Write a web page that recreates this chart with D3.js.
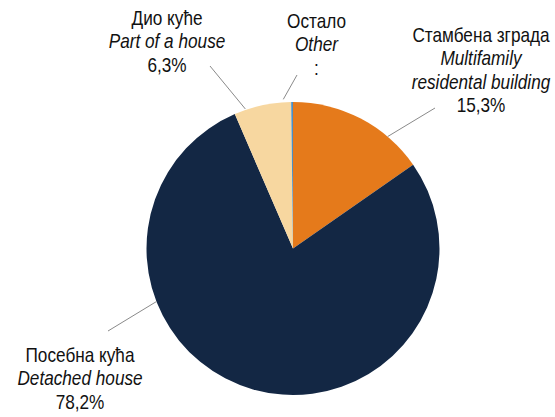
<!DOCTYPE html>
<html><head><meta charset="utf-8">
<script src="https://cdn.jsdelivr.net/npm/d3@7"></script>
<style>
html,body{margin:0;padding:0;background:#fff;}
svg text{font-family:"Liberation Sans","Arial",sans-serif;font-size:20px;fill:#111;}
</style></head>
<body>
<svg id="chart" width="555" height="417"></svg>
<script>
const categoriesSr = ["Стамбена зграда", "Посебна кућа", "Дио куће", "Остало"];
const categoriesEn = [["Multifamily", "residental building"], ["Detached house"], ["Part of a house"], ["Other"]];
const values = [15.3, 78.2, 6.3, 0.2];
const valueLabels = ["15,3%", "78,2%", "6,3%", ":"];
const colors = ["#E57A1B", "#132744", "#F7D7A0", "#4B8FC6"];

// layout (positions only)
const cx = 293, cy = 248.5, R = 146.5;
const narrow = 0.86;
const labelLayout = [
  {x: 481, y: 42, t: 0.73, rOff: 0, lx: 435, ly: 108},
  {x: 80, y: 362, t: 0.688, rOff: 0, lx: 108, ly: 331},
  {x: 167, y: 25, t: 0.2, rOff: 1, lx: 210, ly: 66},
  {x: 316.5, y: 28, t: -3, rOff: 3, lx: 297, ly: 75}
];
const lineH = 23.3;

const svg = d3.select("#chart");
const g = svg.append("g").attr("transform", `translate(${cx},${cy})`);
const pie = d3.pie().sort(null).value(d => d)(values);
const arc = d3.arc().innerRadius(0).outerRadius(R);

g.selectAll("path.slice").data(pie).join("path")
  .attr("class", "slice")
  .attr("d", arc)
  .attr("fill", (d, i) => colors[i]);

// leader lines
pie.forEach((d, i) => {
  const L = labelLayout[i];
  let a;
  if (L.t >= 0) a = d.startAngle + (d.endAngle - d.startAngle) * L.t;
  else a = d.startAngle + L.t * Math.PI / 180;
  const r = R + L.rOff;
  const px = cx + r * Math.sin(a), py = cy - r * Math.cos(a);
  svg.append("line")
    .attr("x1", L.lx).attr("y1", L.ly).attr("x2", px).attr("y2", py)
    .attr("stroke", "#8a8a8a").attr("stroke-width", 1);
});

// labels (horizontally condensed to mimic a narrow face)
categoriesSr.forEach((name, i) => {
  const L = labelLayout[i];
  const t = svg.append("text").attr("text-anchor", "middle")
    .attr("transform", `translate(${L.x},${L.y}) scale(${narrow},1)`);
  const lines = [{s: name, it: false}]
    .concat(categoriesEn[i].map(s => ({s, it: true})))
    .concat([{s: valueLabels[i], it: false}]);
  lines.forEach((ln, k) => {
    t.append("tspan").attr("x", 0).attr("y", k * lineH)
      .style("font-style", ln.it ? "italic" : "normal").text(ln.s);
  });
});
</script>
</body></html>
